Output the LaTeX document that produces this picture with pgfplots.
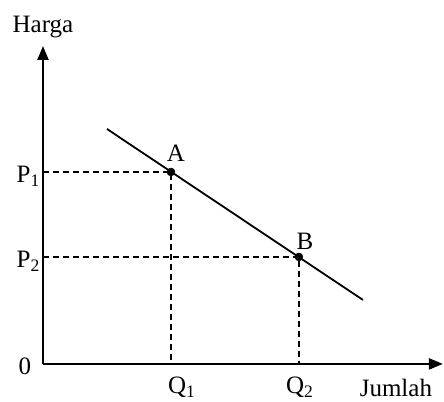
\documentclass[border=0pt]{standalone}
\usepackage{fontspec}
\setmainfont{Liberation Serif}
\usepackage{pgfplots}
\pgfplotsset{compat=1.18}
\usetikzlibrary{arrows.meta}

\begin{document}
\begin{tikzpicture}[font=\fontsize{25}{29}\selectfont]
\begin{axis}[
    x=1pt, y=1pt,
    xmin=0, xmax=400,
    ymin=0, ymax=318,
    axis lines=left,
    axis line style={line width=2.2pt, -{Triangle[length=14pt,width=11pt]}},
    xtick=\empty, ytick=\empty,
    clip=false,
]
% invisible frame giving the picture its size
\draw[draw=none] (axis cs:-43,-38) rectangle (axis cs:401,364);

% demand curve
\addplot[black, line width=1.8pt] coordinates {(64,235) (320,64)};

% dashed guides
\addplot[black, line width=1.6pt, dash pattern=on 6pt off 4pt] coordinates {(0,192) (128,192) (128,0)};
\addplot[black, line width=1.6pt, dash pattern=on 6pt off 4pt] coordinates {(0,107) (256,107) (256,0)};

% points A and B
\addplot[only marks, mark=*, mark size=4pt, black] coordinates {(128,192) (256,107)};

% labels
\node[anchor=base] at (axis cs:0,331) {Harga};
\node[anchor=base] at (axis cs:353,-33) {Jumlah};
\node[anchor=base, inner sep=0pt] at (axis cs:-18,-11) {0};
\node[anchor=base east, inner sep=0pt] at (axis cs:-3,181) {P\textsubscript{1}};
\node[anchor=base east, inner sep=0pt] at (axis cs:-3,96) {P\textsubscript{2}};
\node[anchor=base west, inner sep=0pt] at (axis cs:125,-30) {Q\textsubscript{1}};
\node[anchor=base west, inner sep=0pt] at (axis cs:243,-30) {Q\textsubscript{2}};
\node[anchor=base, inner sep=0pt] at (axis cs:133,202) {A};
\node[anchor=base, inner sep=0pt] at (axis cs:262,114) {B};
\end{axis}
\end{tikzpicture}
\end{document}
